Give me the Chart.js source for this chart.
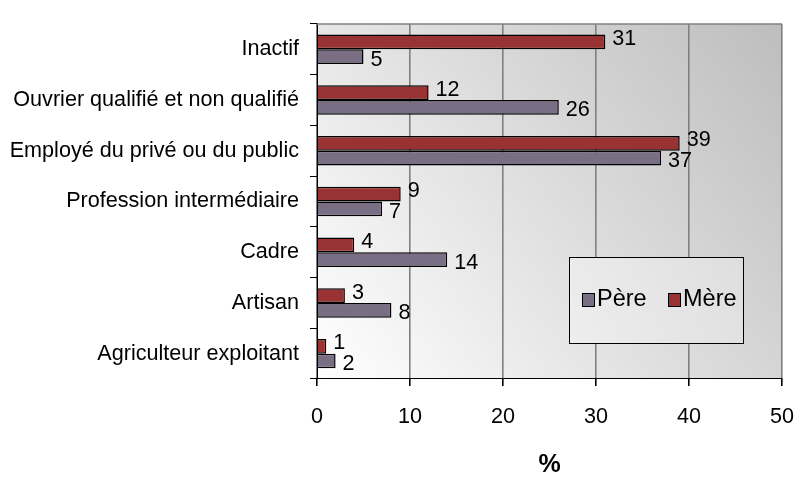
<!DOCTYPE html>
<html>
<head>
<meta charset="utf-8">
<script src="https://cdn.jsdelivr.net/npm/chart.js@4"></script>
<style>
html,body{margin:0;padding:0;background:#fff;}
#wrap{width:795px;height:480px;}
</style>
</head>
<body>
<div id="wrap"><canvas id="c" width="795" height="480"></canvas></div>
<script>
const categories = ['Inactif','Ouvrier qualifié et non qualifié','Employé du privé ou du public','Profession intermédiaire','Cadre','Artisan','Agriculteur exploitant'];
const mere = [31,12,39,9,4,3,1];
const pere = [5,26,37,7,14,8,2];
const xTicks = [0,10,20,30,40,50];
const seriesNames = ['Père','Mère'];
const colPere = '#7a6e84';
const colMere = '#993333';
const FONT = '"Liberation Sans", Arial, sans-serif';

const bgPlugin = {
  id:'bg',
  beforeDraw(chart){
    const {ctx, chartArea:a} = chart;
    const g = ctx.createLinearGradient(a.left, a.bottom, a.right, a.top);
    g.addColorStop(0,'#ffffff');
    g.addColorStop(1,'#bdbdbd');
    ctx.save();
    ctx.fillStyle = g;
    ctx.fillRect(a.left, a.top, a.right-a.left, a.bottom-a.top);
    ctx.restore();
  },
  afterDraw(chart){
    const {ctx, chartArea:a} = chart;
    ctx.save();
    ctx.strokeStyle = '#808080';
    ctx.lineWidth = 1.5;
    ctx.beginPath();
    ctx.moveTo(a.left, a.top);
    ctx.lineTo(a.right, a.top);
    ctx.stroke();
    ctx.restore();
  }
};

const labelPlugin = {
  id:'vals',
  afterDatasetsDraw(chart){
    const {ctx} = chart;
    ctx.save();
    ctx.font = '21.6px ' + FONT;
    ctx.fillStyle = '#000';
    ctx.textAlign = 'left';
    ctx.textBaseline = 'middle';
    chart.data.datasets.forEach((ds, di) => {
      const meta = chart.getDatasetMeta(di);
      meta.data.forEach((bar, i) => {
        const dy = di === 0 ? -3 : 3;
        ctx.fillText(String(ds.data[i]), bar.x + 7, bar.y + dy);
      });
    });
    ctx.restore();
  }
};

const legendPlugin = {
  id:'customLegend',
  afterDraw(chart){
    const {ctx} = chart;
    const x0 = 569, y0 = 257, w = 174, h = 86;
    ctx.save();
    const g = ctx.createLinearGradient(x0, y0+h, x0+w, y0);
    g.addColorStop(0,'#eeeeee');
    g.addColorStop(1,'#dedede');
    ctx.fillStyle = g;
    ctx.fillRect(x0, y0, w, h);
    ctx.strokeStyle = '#000';
    ctx.lineWidth = 1;
    ctx.strokeRect(x0+0.5, y0+0.5, w, h);
    const items = [[seriesNames[0], colPere, 582], [seriesNames[1], colMere, 668]];
    ctx.font = '23.5px ' + FONT;
    ctx.textBaseline = 'middle';
    items.forEach(([t, c, x]) => {
      ctx.fillStyle = c;
      ctx.fillRect(x+0.5, 293.5, 12, 13);
      ctx.strokeRect(x+0.5, 293.5, 12, 13);
      ctx.fillStyle = '#000';
      ctx.fillText(t, x + 15, 300);
    });
    ctx.restore();
  }
};

new Chart(document.getElementById('c'), {
  type:'bar',
  data:{
    labels: categories,
    datasets:[
      {label: seriesNames[1], data: mere, backgroundColor: colMere, borderColor:'#000', borderWidth:1.5, categoryPercentage:0.58, barPercentage:1},
      {label: seriesNames[0], data: pere, backgroundColor: colPere, borderColor:'#000', borderWidth:1.5, categoryPercentage:0.58, barPercentage:1}
    ]
  },
  options:{
    indexAxis:'y',
    responsive:false,
    animation:false,
    layout:{padding:{top:12, right:0, bottom:0, left:0}},
    plugins:{legend:{display:false}, tooltip:{enabled:false}},
    scales:{
      x:{
        min:0, max:50,
        afterBuildTicks(s){ s.ticks = xTicks.map(v => ({value:v})); },
        afterFit(s){ s.height = 101; s.paddingRight = 13; },
        ticks:{color:'#000', font:{size:21.6, family:FONT}, padding:18},
        grid:{color:'#808080', lineWidth:1.6, tickColor:'#000', tickLength:7},
        border:{color:'#000', width:1},
        title:{display:true, text:'%', color:'#000', font:{size:25, weight:'bold', family:FONT}, padding:{top:0,bottom:0}}
      },
      y:{
        afterFit(s){ s.width = 317; },
        ticks:{color:'#000', font:{size:21.6, family:FONT}, padding:11},
        grid:{drawOnChartArea:false, offset:true, color:'#000', tickColor:'#000', tickLength:7},
        border:{color:'#000', width:1}
      }
    }
  },
  plugins:[bgPlugin, labelPlugin, legendPlugin]
});
</script>
</body>
</html>
